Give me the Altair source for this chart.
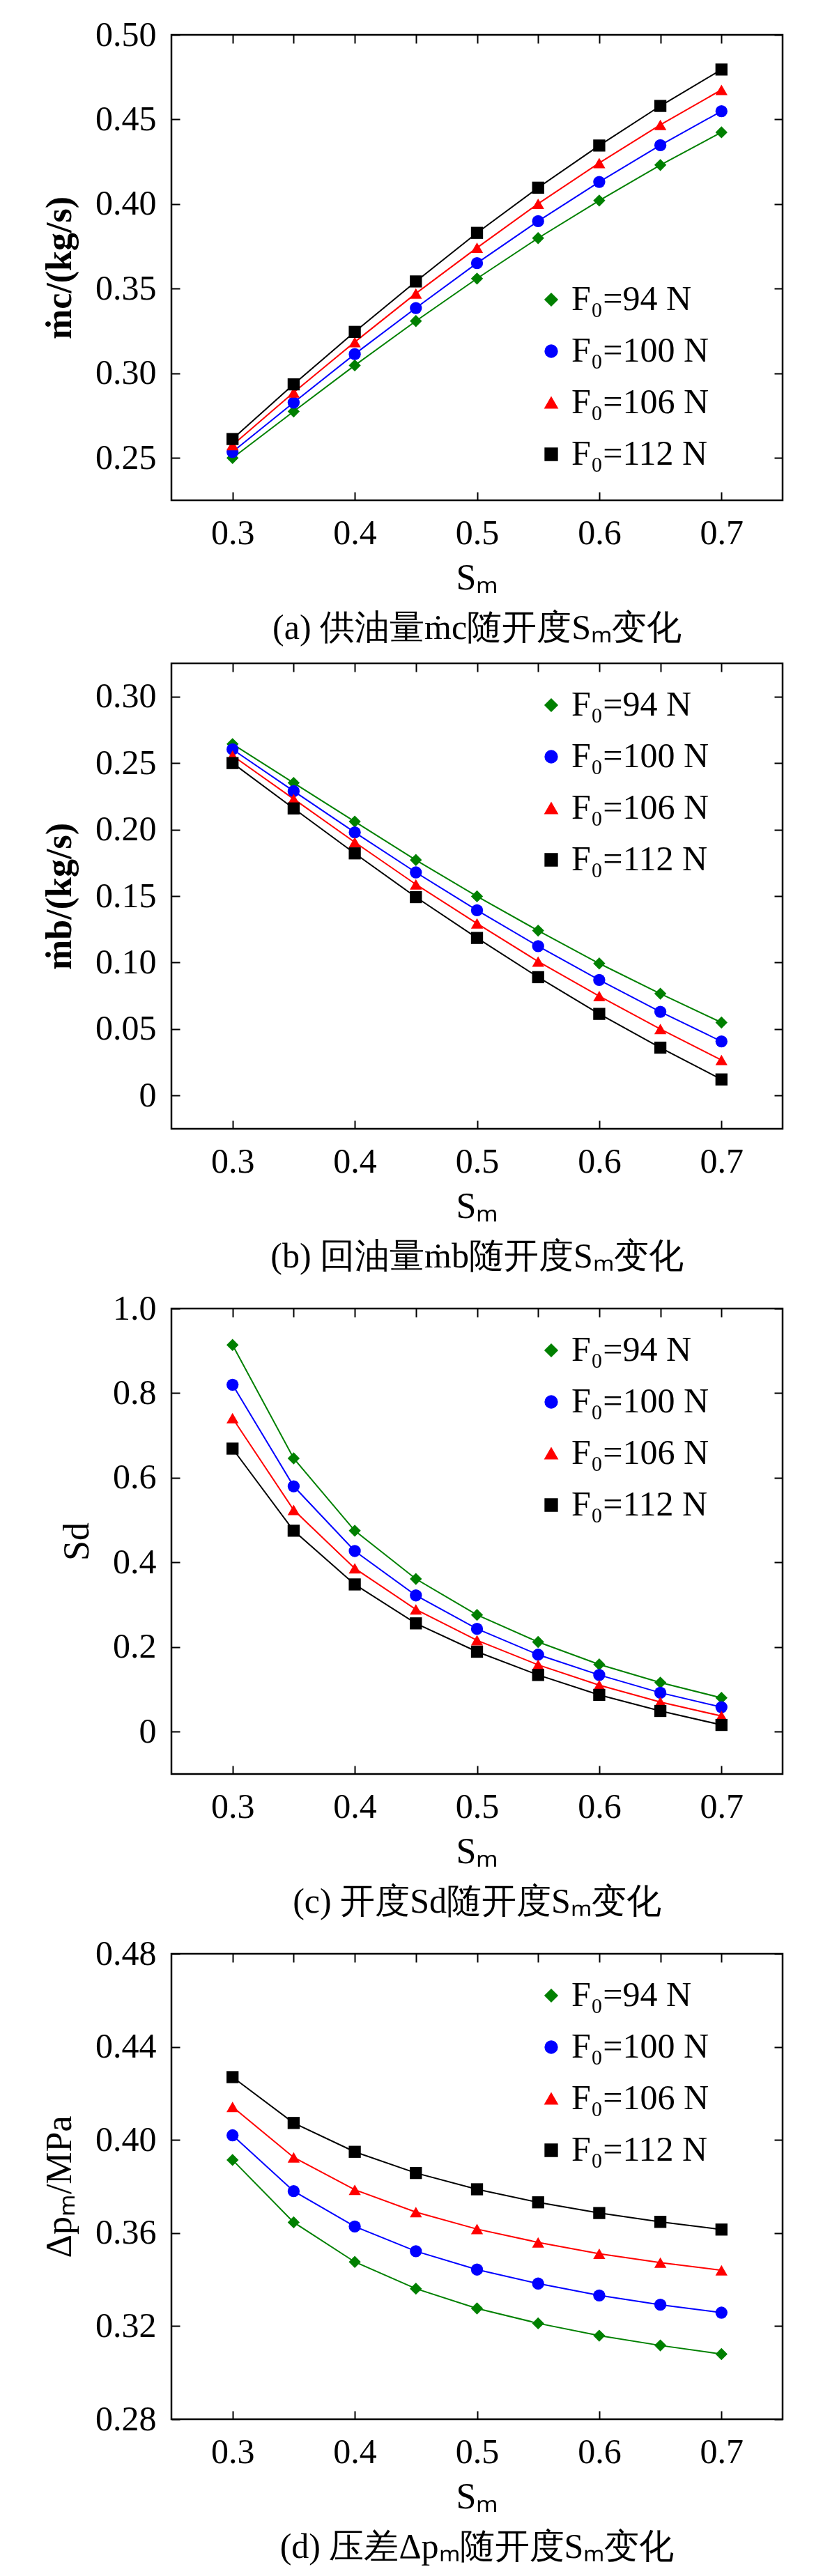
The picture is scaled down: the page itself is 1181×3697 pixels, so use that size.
import altair as alt
import pandas as pd

sm = [0.3, 0.35, 0.4, 0.45, 0.5, 0.55, 0.6, 0.65, 0.7]
series = ["F₀=94 N", "F₀=100 N", "F₀=106 N", "F₀=112 N"]
colors = ["#008000", "#0000FF", "#FF0000", "#000000"]
shapes = ["diamond", "circle", "triangle-up", "square"]

mc_94 = [0.250, 0.2775, 0.3047, 0.3309, 0.356, 0.3799, 0.4021, 0.4231, 0.4424]
mc_100 = [0.2536, 0.2827, 0.3114, 0.3386, 0.3651, 0.3899, 0.4131, 0.4348, 0.4549]
mc_106 = [0.2576, 0.2887, 0.3185, 0.3472, 0.3742, 0.4002, 0.4243, 0.4468, 0.4675]
mc_112 = [0.2612, 0.2935, 0.3245, 0.3543, 0.383, 0.4097, 0.4346, 0.458, 0.4795]

mb_94 = [0.2643, 0.2351, 0.206, 0.1771, 0.1498, 0.124, 0.0993, 0.0766, 0.0549]
mb_100 = [0.2603, 0.2289, 0.1979, 0.1678, 0.1393, 0.1123, 0.0869, 0.063, 0.0407]
mb_106 = [0.2556, 0.223, 0.1905, 0.1588, 0.1294, 0.1008, 0.0748, 0.050, 0.0267]
mb_112 = [0.250, 0.2159, 0.1821, 0.1492, 0.1185, 0.089, 0.0614, 0.036, 0.0121]

sd_94 = [0.914, 0.646, 0.475, 0.361, 0.276, 0.212, 0.159, 0.116, 0.080]
sd_100 = [0.820, 0.580, 0.427, 0.322, 0.243, 0.182, 0.134, 0.092, 0.058]
sd_106 = [0.741, 0.524, 0.386, 0.289, 0.216, 0.158, 0.110, 0.070, 0.037]
sd_112 = [0.669, 0.475, 0.348, 0.256, 0.189, 0.134, 0.087, 0.049, 0.016]

dp_94 = [0.3914, 0.3646, 0.3476, 0.3361, 0.3276, 0.3212, 0.3159, 0.3117, 0.308]
dp_100 = [0.402, 0.378, 0.3628, 0.3522, 0.3443, 0.3383, 0.3332, 0.3292, 0.3258]
dp_106 = [0.4142, 0.3925, 0.3786, 0.369, 0.3617, 0.356, 0.3511, 0.3473, 0.344]
dp_112 = [0.427, 0.4073, 0.3949, 0.3858, 0.3788, 0.3732, 0.3686, 0.3648, 0.3615]

FONT = "Liberation Serif"
W, H = 877, 668
TS = 12
FS = 50


def panel(ylists, ydomain, yticks, ytitle, caption, zero_label, fmt, lx, ly, tbold):
    rows = []
    for name, ys in zip(series, ylists):
        for x, y in zip(sm, ys):
            rows.append({"Sm": x, "v": y, "F": name})
    df = pd.DataFrame(rows)
    lblexpr = (f"datum.value == 0 ? '0' : format(datum.value, '{fmt}')" if zero_label
               else f"format(datum.value, '{fmt}')")
    common = dict(domain=False, tickSize=TS, offset=-TS, tickWidth=2, tickColor="black",
                  grid=False, labelFont=FONT, labelFontSize=FS, titleFont=FONT,
                  titleFontSize=FS + 2, titleFontWeight="normal", labelColor="black",
                  titleColor="black")
    xs = alt.Scale(domain=[0.25, 0.75], nice=False)
    ysc = alt.Scale(domain=ydomain, nice=False, zero=False)
    color = alt.Color("F:N", scale=alt.Scale(domain=series, range=colors),
                      legend=alt.Legend(title=None, orient="none", legendX=lx, legendY=ly,
                                        labelFont=FONT, labelFontSize=FS, symbolSize=300,
                                        rowPadding=24, labelLimit=400, symbolStrokeWidth=2))
    shape = alt.Shape("F:N", scale=alt.Scale(domain=series, range=shapes), legend=None)
    lines = alt.Chart(df).mark_line(strokeWidth=2).encode(
        x=alt.X("Sm:Q", scale=xs, axis=alt.Axis(values=sm[::2], format=".1f", title="Sₘ",
                                                 labelPadding=TS + 10, titlePadding=14, **common)),
        y=alt.Y("v:Q", scale=ysc, axis=alt.Axis(values=yticks, labelExpr=lblexpr, title=ytitle,
                                                labelPadding=TS + 10, titlePadding=24,
                                                **{**common, "titleFontWeight": "bold" if tbold else "normal"})),
        color=color, detail="F:N",
    )
    pts = alt.Chart(df).mark_point(filled=True, size=300, opacity=1).encode(
        x=alt.X("Sm:Q", scale=xs, axis=alt.Axis(orient="top", values=sm, labels=False, title=None, **common)),
        y=alt.Y("v:Q", scale=ysc, axis=alt.Axis(orient="right", values=yticks, labels=False, title=None, **common)),
        color=color, shape=shape,
    )
    return alt.layer(lines, pts).resolve_axis(x="independent", y="independent").properties(
        width=W, height=H,
        title=alt.TitleParams(caption, orient="bottom", anchor="middle", font=FONT,
                              fontSize=FS, fontWeight="normal", color="black", offset=22),
    )


pa = panel([mc_94, mc_100, mc_106, mc_112], [0.225, 0.50], [0.25, 0.30, 0.35, 0.40, 0.45, 0.50],
           "ṁc/(kg/s)", "(a) 供油量ṁc随开度Sₘ变化", False, ".2f", 520, 355, True)
pb = panel([mb_94, mb_100, mb_106, mb_112], [-0.025, 0.325], [0, 0.05, 0.10, 0.15, 0.20, 0.25, 0.30],
           "ṁb/(kg/s)", "(b) 回油量ṁb随开度Sₘ变化", True, ".2f", 520, 35, True)
pc = panel([sd_94, sd_100, sd_106, sd_112], [-0.1, 1.0], [0, 0.2, 0.4, 0.6, 0.8, 1.0],
           "Sd", "(c) 开度Sd随开度Sₘ变化", True, ".1f", 520, 35, False)
pd_ = panel([dp_94, dp_100, dp_106, dp_112], [0.28, 0.48], [0.28, 0.32, 0.36, 0.40, 0.44, 0.48],
            "Δpₘ/MPa", "(d) 压差Δpₘ随开度Sₘ变化", False, ".2f", 520, 35, False)

chart = alt.vconcat(pa, pb, pc, pd_, spacing=20).resolve_scale(color="independent", shape="independent").configure_view(
    stroke="black", strokeWidth=2.5
).properties(padding={"left": 50, "top": 15, "right": 10, "bottom": 5}, background="white")

chart.save("out.html", embed_options={"renderer": "svg", "actions": False})
